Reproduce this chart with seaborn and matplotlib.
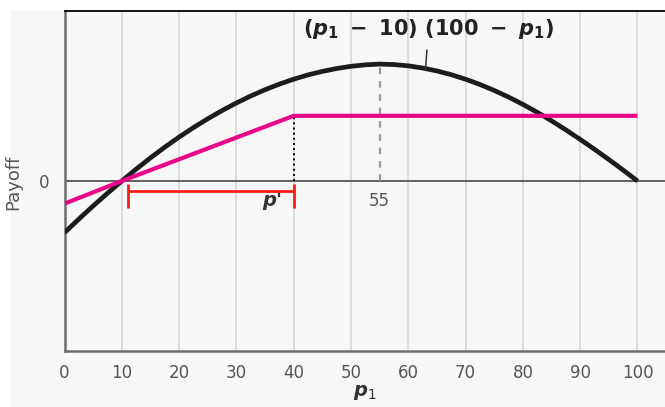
import seaborn as sns
import matplotlib.pyplot as plt
from matplotlib.patches import Rectangle

#%% data
# black curve (p1 - 10)(100 - p1), read every 2.5
p1 = [0, 2.5, 5, 7.5, 10, 12.5, 15, 17.5, 20, 22.5, 25, 27.5, 30, 32.5, 35, 37.5,
      40, 42.5, 45, 47.5, 50, 52.5, 55, 57.5, 60, 62.5, 65, 67.5, 70, 72.5, 75,
      77.5, 80, 82.5, 85, 87.5, 90, 92.5, 95, 97.5, 100]
payoff = [-912, -672, -440, -216, 0, 209, 408, 597, 775, 942, 1098, 1243, 1377,
          1500, 1611, 1710, 1797, 1872, 1934, 1985, 2024, 2050, 2063, 2055, 2032,
          1994, 1942, 1876, 1796, 1703, 1598, 1481, 1352, 1212, 1062, 902, 734,
          559, 379, 192, 0]

# pink line
pink_x = [0, 10, 40, 100]
pink_y = [-400, 0, 1150, 1150]

xticks = [0, 10, 20, 30, 40, 50, 60, 70, 80, 90, 100]
bracket_from, bracket_to = 11, 40
peak_p = 55

#%% style
sns.set_theme(style="white")
plt.rcParams['font.family'] = ['DejaVu Sans']
plt.rcParams['mathtext.fontset'] = 'custom'
plt.rcParams['mathtext.it'] = 'DejaVu Sans:italic:bold'
plt.rcParams['mathtext.rm'] = 'DejaVu Sans'
plt.rcParams['mathtext.bf'] = 'DejaVu Sans:bold'

bg = '#f7f7f7'
txt = '#555555'

fig = plt.figure(figsize=(6.65, 4.07), dpi=100, facecolor='white')
fig.patches.append(Rectangle((11 / 665, 0), 1, 1 - 10 / 407, transform=fig.transFigure,
                             facecolor=bg, edgecolor='none', zorder=-10))
ax = fig.add_axes([64.5 / 665, 1 - 351 / 407, 1 - 64.5 / 665, 340 / 407])
ax.set_facecolor(bg)

ax.set_xlim(0, 104.8)
ax.set_ylim(-3000, 3000)

# vertical grid
ax.set_xticks(xticks)
ax.grid(axis='x', color='#d6d6d6', lw=1.1)
ax.grid(axis='y', visible=False)
ax.axhline(0, color='#555555', lw=1.3, zorder=1)

sns.lineplot(x=p1, y=payoff, ax=ax, color='#1c1c1c', lw=3.4, zorder=3,
             solid_capstyle='butt')
sns.lineplot(x=pink_x, y=pink_y, ax=ax, color='#e8068a', lw=3.0, zorder=4,
             solid_capstyle='butt')

peak_val = payoff[p1.index(peak_p)]
ax.vlines(peak_p, 0, peak_val, colors='#9a9a9a', linestyles=(0, (3, 3)), lw=1.6, zorder=2)
ax.vlines(bracket_to, 0, pink_y[2], colors='black', linestyles=':', lw=1.4, zorder=2)

# red bracket
ax.hlines(-180, bracket_from, bracket_to, colors='#ff1a1a', lw=2.0, zorder=5)
ax.vlines([bracket_from, bracket_to], -475, -50, colors='#ff1a1a', lw=2.0, zorder=5)

ax.text(bracket_to - 3.8, -340, "p'", fontsize=14, color='#333333',
        fontweight='bold', fontstyle='italic', ha='center', va='center')
ax.text(peak_p, -360, "55", fontsize=12, color=txt, ha='center', va='center')

ax.annotate(r"$\mathbf{(}p_\mathbf{1}\mathbf{\ -\ 10)\ (100\ -\ }p_\mathbf{1}\mathbf{)}$",
            xy=(63, 1960), xytext=(63.5, 2680), fontsize=15, color='#222222',
            ha='center', va='center',
            arrowprops=dict(arrowstyle='-', color='#333333', lw=1.1, shrinkA=4, shrinkB=0))

# axes
ax.set_yticks([0])
ax.set_yticklabels(['0'])
ax.tick_params(axis='both', length=0, labelsize=12, labelcolor=txt)
ax.tick_params(axis='x', pad=9)
ax.tick_params(axis='y', pad=11)
ax.set_ylabel('Payoff', fontsize=13, color=txt)
ax.yaxis.set_label_coords(-0.071, 0.497)
ax.set_xlabel(r"$p_1$", fontsize=14, color='#333333', labelpad=1)

for s in ['left', 'bottom']:
    ax.spines[s].set_color('#6e6e6e')
    ax.spines[s].set_linewidth(1.8)
ax.spines['top'].set_color('#111111')
ax.spines['top'].set_linewidth(1.4)
ax.spines['right'].set_visible(False)

plt.savefig('out.png', dpi=100, facecolor=fig.get_facecolor())
